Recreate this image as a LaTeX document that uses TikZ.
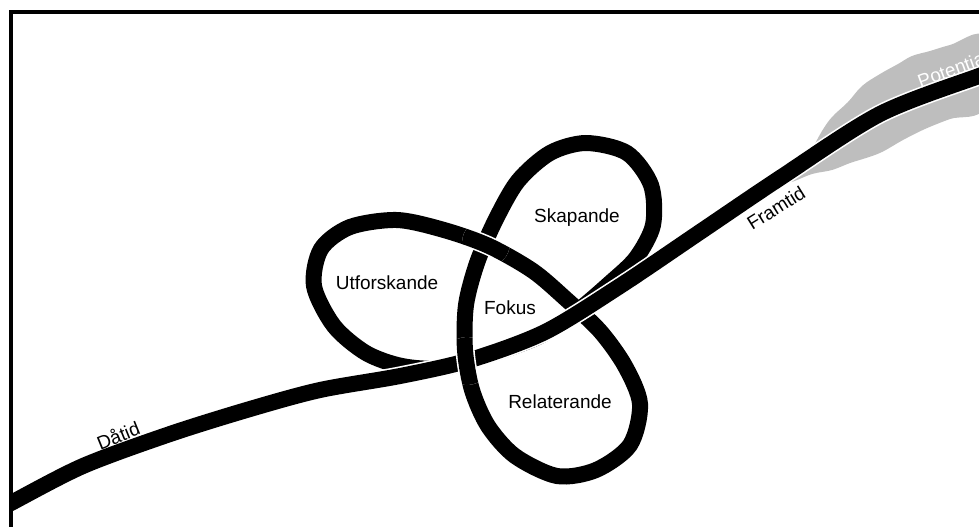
\documentclass[tikz,border=0pt]{standalone}
\usepackage{fontspec}
\setmainfont{Liberation Sans}
\definecolor{mistgray}{RGB}{190,190,190}

\begin{document}
\begin{tikzpicture}[
    x=0.5pt, y=-0.5pt,
    rope/.style={draw=white, double=black, line width=0.8pt, double distance=8pt},
    tag/.style={font=\fontsize{9.5}{11}\selectfont, inner sep=1pt}
]
\useasboundingbox (0,0) rectangle (979,526);

\begin{scope}
\clip (11,12) rectangle (979,526);

% mist round the future
\fill[mistgray] plot[smooth cycle, tension=0.6] coordinates {
    (790,182) (812,174) (832,170) (850,163) (866,158) (882,152) (903,140)
    (925,129) (950,119) (985,107) (985,37) (950,45) (930,51) (912,56)
    (898,64) (880,74) (862,86) (848,102) (832,117) (822,131) (812,149) (800,168)};

% the knot
\draw[rope] plot[smooth cycle] coordinates {
    (540,336) (492,354) (442,368) (402,366) (366,353) (334,326) (314,286)
    (321,249) (350,227) (397,220) (444,230) (489,246) (533,271) (567,300)
    (600,331) (625,366) (640,404) (630,445) (596,470) (557,476) (515,456)
    (488,426) (472,390) (465,350) (466,305) (477,263) (495,221) (518,181)
    (550,153) (586,143) (627,153) (651,185) (653,225) (636,258) (610,283)
    (576,312)};

% time line
\draw[rope] plot[smooth] coordinates {
    (0,509) (11,503) (83,466) (170,434) (250,409) (320,390) (400,376)
    (470,360) (545,332) (620,286) (700,232) (780,178) (880,114) (979,76)
    (1010,66)};

% Fokus strand over the time line
\begin{scope}
    \clip (467,361) circle[radius=12pt];
    \draw[rope] plot[smooth] coordinates {
        (557,476) (515,456) (488,426) (472,390) (465,350) (466,305) (477,263)};
\end{scope}

% upper strand over the Fokus strand
\begin{scope}
    \clip (486,243) circle[radius=12pt];
    \draw[rope] plot[smooth] coordinates {
        (350,227) (397,220) (444,230) (489,246) (533,271) (567,300)};
\end{scope}
\end{scope}

% frame
\draw[line width=2pt] (11,530) -- (11,12) -- (985,12);

\node[tag] (utf)   at (387,283) {Utforskande};
\node[tag] (skap)  at (577,218) {Skapande};
\node[tag] (fokus) at (510,308) {Fokus};
\node[tag] (rel)   at (560,402) {Relaterande};
\node[tag, rotate=22] (dat)  at (118,435) {Dåtid};
\node[tag, rotate=32] (fram) at (776,208) {Framtid};
\node[tag, rotate=20, text=white] (pot) at (953,69) {Potential};

\end{tikzpicture}
\end{document}
